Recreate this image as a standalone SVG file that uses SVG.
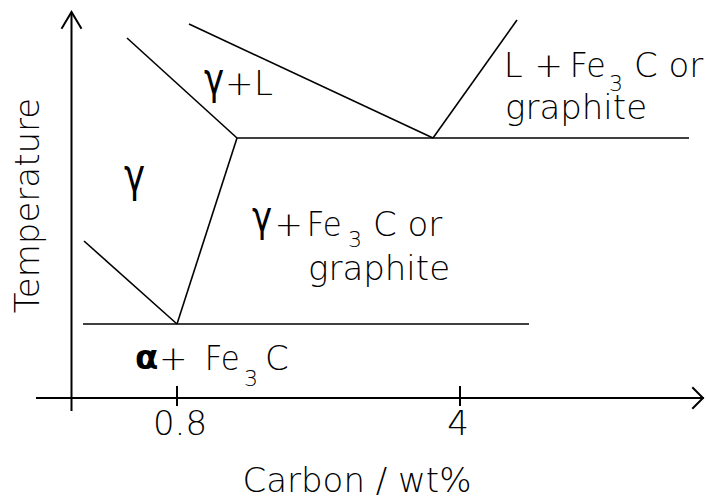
<svg xmlns="http://www.w3.org/2000/svg" width="706" height="499" viewBox="0 0 706 499">
<style>
.ax{stroke:#000;stroke-width:2;fill:none;stroke-linecap:square}
.ln{stroke:#000;stroke-width:1.6;fill:none}
text{font-family:"DejaVu Sans","Liberation Sans",sans-serif;font-size:34px;font-weight:200;fill:#000}
.sub{font-size:22px}
.gr{font-weight:400}
.al{font-weight:700}
</style>
<rect width="706" height="499" fill="#fff"/>
<g id="axes">
<line class="ax" x1="71.5" y1="13" x2="71.5" y2="410"/>
<polyline class="ax" points="62,28 71.5,12 81,28"/>
<line class="ax" x1="37" y1="398" x2="703" y2="398"/>
<polyline class="ax" points="693,388 703,398 693,408"/>
<line class="ax" x1="177" y1="387" x2="177" y2="405"/>
<line class="ax" x1="460" y1="387" x2="460" y2="405"/>
</g>
<g id="boundaries">
<line class="ln" x1="127" y1="38" x2="237" y2="138"/>
<line class="ln" x1="189" y1="24" x2="433" y2="138"/>
<line class="ln" x1="433" y1="138" x2="517" y2="20"/>
<line class="ln" x1="237" y1="138" x2="689" y2="138"/>
<line class="ln" x1="237" y1="138" x2="177" y2="324"/>
<line class="ln" x1="84" y1="241" x2="177" y2="324"/>
<line class="ln" x1="83" y1="324" x2="529" y2="324"/>
</g>
<g id="labels">
<text x="40" y="206.5" text-anchor="middle" transform="rotate(-90 39 206.5)">Temperature</text>
<text x="357" y="492" text-anchor="middle">Carbon / wt%</text>
<text x="180" y="435" text-anchor="middle">0.8</text>
<text x="458" y="435" text-anchor="middle">4</text>
</g>
<g id="region-gamma-L">
<text class="gr" transform="translate(204 94) scale(1 1.3)">γ</text>
<text x="225" y="95">+</text>
<text x="254" y="95">L</text>
</g>
<g id="region-gamma">
<text class="gr" transform="translate(124 191) scale(1.05 1.38)">γ</text>
</g>
<g id="region-gamma-Fe3C">
<text class="gr" transform="translate(252 231) scale(1 1.26)">γ</text>
<text x="274.5" y="236">+</text>
<text x="306.7" y="236" textLength="35" lengthAdjust="spacingAndGlyphs">Fe</text>
<text class="sub" x="348" y="247">3</text>
<text x="373" y="236">C or</text>
<text x="308" y="280">graphite</text>
</g>
<g id="region-L-Fe3C">
<text x="503.7" y="77">L</text>
<text x="534.4" y="77">+</text>
<text x="569.7" y="77" textLength="36" lengthAdjust="spacingAndGlyphs">Fe</text>
<text class="sub" x="609" y="91">3</text>
<text x="634" y="77">C or</text>
<text x="505" y="119">graphite</text>
</g>
<g id="region-alpha-Fe3C">
<text class="al" x="135" y="369">α</text>
<text x="159" y="370">+</text>
<text x="204.7" y="370" textLength="35" lengthAdjust="spacingAndGlyphs">Fe</text>
<text class="sub" x="244" y="386">3</text>
<text x="265" y="370">C</text>
</g>
</svg>
